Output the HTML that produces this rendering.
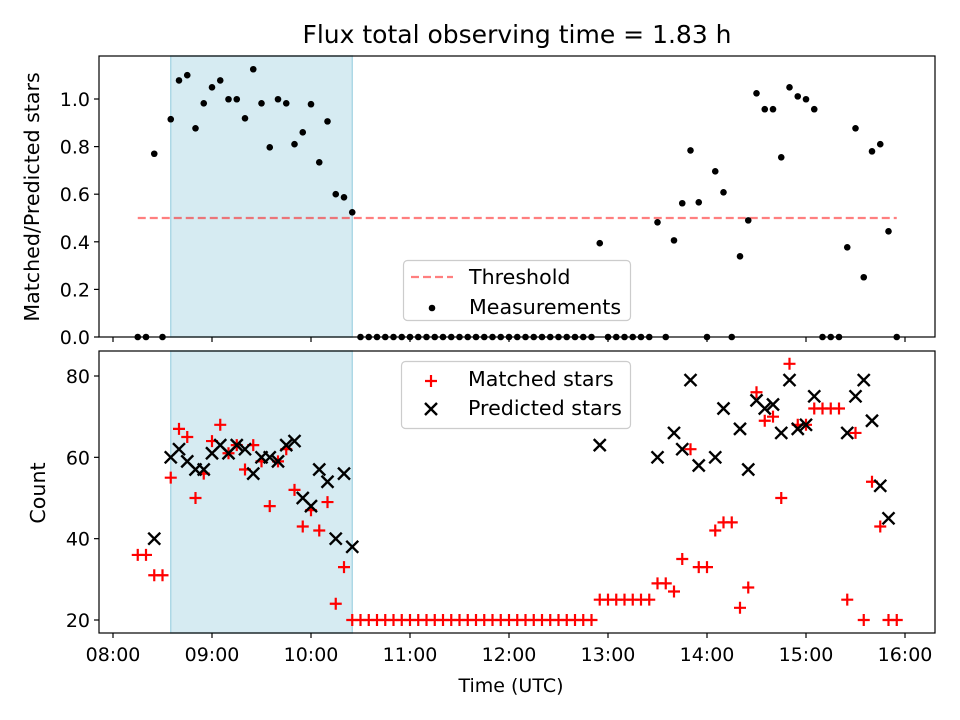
<!DOCTYPE html>
<html><head><meta charset="utf-8"><style>
html,body{margin:0;padding:0;background:#fff;}
svg{display:block;font-family:"DejaVu Sans","Liberation Sans",sans-serif;}
</style></head><body>
<svg id="chart" width="960" height="720" viewBox="0 0 960 720" xmlns="http://www.w3.org/2000/svg">
<rect x="0" y="0" width="960" height="720" fill="#fff"/>
<text x="517" y="43" font-size="25" text-anchor="middle" fill="#000">Flux total observing time = 1.83 h</text>
<g id="topPanel"></g>
<g id="botPanel"></g>
</svg>
<script>
// data: one sample every 5 minutes starting 08:15 (index i -> 8.25 + i/12 h)
const startHour = 8.25;
const stepHours = 1/12;
const ratio = [0,0,0.77,0,0.915,1.078,1.10,0.877,0.982,1.049,1.078,0.999,0.999,0.919,1.125,0.982,0.797,0.999,0.982,0.81,0.86,0.978,0.734,0.906,0.60,0.587,0.524,
0,0,0,0,0,0,0,0,0,0,0,0,0,0,0,0,0,0,0,0,0,0,0,0,0,0,0,0,0,
0.394,0,0,0,0,0,0,0.482,0,0.406,0.562,0.784,0.566,0,0.696,0.608,0,0.339,0.49,1.024,0.957,0.957,0.755,1.049,1.011,0.999,0.957,0,0,0,0.377,0.877,0.251,0.78,0.81,0.444,0];
const matched = [36,36,31,31,55,67,65,50,56,64,68,61,63,57,63,59,48,59,62,52,43,47,42,49,24,33,20,
20,20,20,20,20,20,20,20,20,20,20,20,20,20,20,20,20,20,20,20,20,20,20,20,20,20,20,20,20,
25,25,25,25,25,25,25,29,29,27,35,62,33,33,42,44,44,23,28,76,69,70,50,83,68,68,72,72,72,72,25,66,20,54,43,20,20];
const predicted = [null,null,40,null,60,62,59,57,57,61,63,61,63,62,56,60,60,59,63,64,50,48,57,54,40,56,38,
null,null,null,null,null,null,null,null,null,null,null,null,null,null,null,null,null,null,null,null,null,null,null,null,null,null,null,null,null,
63,null,null,null,null,null,null,60,null,66,62,79,58,null,60,72,null,67,57,74,72,73,66,79,67,68,75,null,null,null,66,75,79,69,53,45,null];
const threshold = 0.5;
const spanStart = 8.5833, spanEnd = 10.4167;
const xTickHours = [8,9,10,11,12,13,14,15,16];
const xTickLabels = ["08:00","09:00","10:00","11:00","12:00","13:00","14:00","15:00","16:00"];
const topTicks = [0,0.2,0.4,0.6,0.8,1.0];
const topTickLabels = ["0.0","0.2","0.4","0.6","0.8","1.0"];
const botTicks = [20,40,60,80];
const botTickLabels = ["20","40","60","80"];

const NS="http://www.w3.org/2000/svg";
const FS=19, LFS=20.6;
function mk(parent,tag,attrs){const e=document.createElementNS(NS,tag);for(const k in attrs)e.setAttribute(k,attrs[k]);parent.appendChild(e);return e;}
const L=99,R=935;
const xs=h=>113+(h-8)*99;
const topY=v=>337-v*238;
const botY=v=>620-(v-20)*244/60;
const tHour=i=>startHour+i*stepHours;

function axesFrame(g,y0,y1,name){
  const r=mk(g,'rect',{x:L,y:y0,width:R-L,height:y1-y0,fill:'none',stroke:'#000','stroke-width':1.2});
  
  
}
function span(g,y0,y1){
  const r=mk(g,'rect',{x:xs(spanStart),y:y0,width:xs(spanEnd)-xs(spanStart),height:y1-y0,fill:'#add8e6','fill-opacity':0.5,stroke:'#add8e6','stroke-width':1.5});
  
  
}
function xTicks(g,yb,labels){
  xTickHours.forEach((h,k)=>{
    const t=mk(g,'line',{x1:xs(h),x2:xs(h),y1:yb,y2:yb+5,stroke:'#000','stroke-width':1.2});
    
    
    if(labels){
      const tx=mk(g,'text',{x:xs(h),y:yb+28,'font-size':FS,'text-anchor':'middle',fill:'#000'});
      tx.textContent=xTickLabels[k];
      
      
    }
  });
}
function yTicks(g,ticks,labels,yf){
  ticks.forEach((v,k)=>{
    const t=mk(g,'line',{x1:L-5,x2:L,y1:yf(v),y2:yf(v),stroke:'#000','stroke-width':1.2});
    
    
    const tx=mk(g,'text',{x:L-9,y:yf(v)+7,'font-size':FS,'text-anchor':'end',fill:'#000'});
    tx.textContent=labels[k];
    
    
  });
}
function plus(g,x,y){
  const p=mk(g,'path',{d:`M${x-6} ${y}H${x+6}M${x} ${y-6}V${y+6}`,stroke:'#ff0000','stroke-width':2.2,fill:'none'});
  
  
}
function cross(g,x,y){
  const p=mk(g,'path',{d:`M${x-6} ${y-6}L${x+6} ${y+6}M${x-6} ${y+6}L${x+6} ${y-6}`,stroke:'#000','stroke-width':2.4,fill:'none'});
  
  
}

// TOP PANEL
const topG=document.getElementById('topPanel');


span(topG,56,337);
const th=mk(topG,'line',{x1:xs(tHour(0)),x2:xs(tHour(ratio.length-1)),y1:topY(threshold),y2:topY(threshold),stroke:'#ff0000','stroke-opacity':0.5,'stroke-width':2.2,'stroke-dasharray':'8 4'});


ratio.forEach((v,i)=>{
  const c=mk(topG,'circle',{cx:xs(tHour(i)),cy:topY(v),r:3.3,fill:'#000'});
  
  
});
axesFrame(topG,56,337,'top-axes');
xTicks(topG,337,false);
yTicks(topG,topTicks,topTickLabels,topY);
const yl1=mk(topG,'text',{x:0,y:0,'font-size':LFS,'text-anchor':'middle',transform:'translate(39,197) rotate(-90)',fill:'#000'});
yl1.textContent='Matched/Predicted stars';


// top legend
const lg1=mk(topG,'g',{});


mk(lg1,'rect',{x:403.5,y:260.5,width:227,height:60,rx:4,fill:'#fff','fill-opacity':0.8,stroke:'#cccccc','stroke-width':1.2});
mk(lg1,'line',{x1:411,x2:453,y1:277,y2:277,stroke:'#ff0000','stroke-opacity':0.5,'stroke-width':2.2,'stroke-dasharray':'8 4'});
mk(lg1,'circle',{cx:432,cy:308,r:3.3,fill:'#000'});
const lt1=mk(lg1,'text',{x:469,y:284,'font-size':LFS,fill:'#000'});lt1.textContent='Threshold';


const lt2=mk(lg1,'text',{x:469,y:314,'font-size':LFS,fill:'#000'});lt2.textContent='Measurements';



// BOTTOM PANEL
const botG=document.getElementById('botPanel');


span(botG,351,633);
matched.forEach((v,i)=>{ if(v!==null) plus(botG,xs(tHour(i)),botY(v)); });
predicted.forEach((v,i)=>{ if(v!==null) cross(botG,xs(tHour(i)),botY(v)); });
axesFrame(botG,351,633,'bottom-axes');
xTicks(botG,633,true);
yTicks(botG,botTicks,botTickLabels,botY);
const yl2=mk(botG,'text',{x:0,y:0,'font-size':LFS,'text-anchor':'middle',transform:'translate(45,493) rotate(-90)',fill:'#000'});
yl2.textContent='Count';


const xl=mk(botG,'text',{x:511,y:692,'font-size':FS,'text-anchor':'middle',fill:'#000'});
xl.textContent='Time (UTC)';


const lg2=mk(botG,'g',{});


mk(lg2,'rect',{x:401.5,y:361.5,width:229,height:67,rx:4,fill:'#fff','fill-opacity':0.8,stroke:'#cccccc','stroke-width':1.2});
mk(lg2,'path',{d:'M425 381H437M431 375V387',stroke:'#ff0000','stroke-width':2.2});
mk(lg2,'path',{d:'M425 403L437 415M425 415L437 403',stroke:'#000','stroke-width':2.4});
const lt3=mk(lg2,'text',{x:468,y:386,'font-size':LFS,fill:'#000'});lt3.textContent='Matched stars';


const lt4=mk(lg2,'text',{x:468,y:415,'font-size':LFS,fill:'#000'});lt4.textContent='Predicted stars';


</script>
</body></html>
